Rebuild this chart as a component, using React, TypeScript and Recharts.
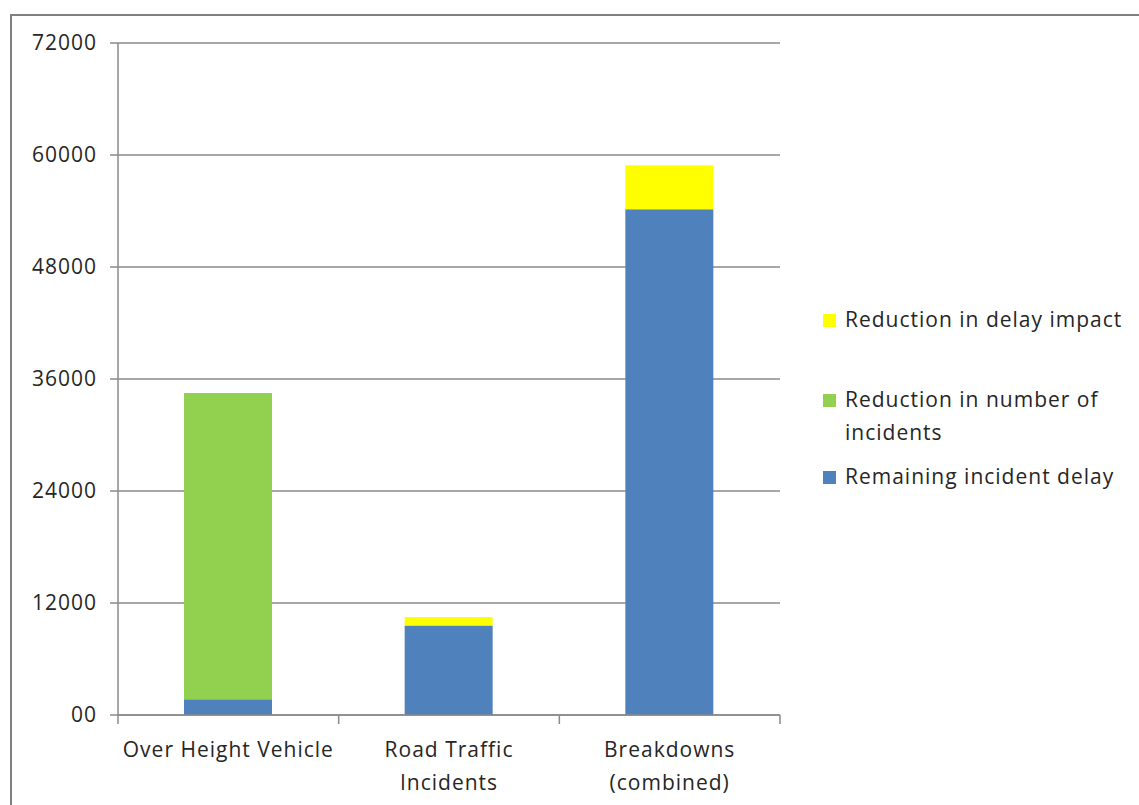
import { BarChart, Bar, XAxis, YAxis, CartesianGrid } from 'recharts';

// incident delay by incident type, stacked
const categories = ['Over Height Vehicle', 'Road Traffic\nIncidents', 'Breakdowns\n(combined)'];
const remainingDelay = [1700, 9600, 54200];
const reductionIncidents = [32800, 0, 0];
const reductionDelay = [0, 900, 4700];
const yTicks = [0, 12000, 24000, 36000, 48000, 60000, 72000];

const series = [
    { key: 'remaining', name: 'Remaining incident delay', color: '#4f81bd' },
    { key: 'incidents', name: 'Reduction in number of\nincidents', color: '#92d050' },
    { key: 'delay', name: 'Reduction in delay impact', color: '#ffff00' },
];

const FONT = '"Open Sans", sans-serif';
const TEXT = '#262626';
const AXIS = '#8a8a8a';

// label plus tick marks on the category boundaries (Excel style)
const CategoryTick = ({ x, y, payload, index, visibleTicksCount }: any) => {
    const lines = String(payload.value).split('\n');
    const half = payload.offset || 0;
    const isLast = index === visibleTicksCount - 1;
    return (
        <g>
            <line x1={x - half} x2={x - half} y1={y} y2={y + 9} stroke={AXIS} strokeWidth={1.5} />
            {isLast && <line x1={x + half} x2={x + half} y1={y} y2={y + 9} stroke={AXIS} strokeWidth={1.5} />}
            <text x={x} y={y} textAnchor="middle" fill={TEXT} fontFamily={FONT} fontSize={21} letterSpacing={1}>
                {lines.map((l, i) => (
                    <tspan key={i} x={x} dy={i === 0 ? 42 : 33}>{l}</tspan>
                ))}
            </text>
        </g>
    );
};

const App = () => {
    const data = categories.map((name, i) => ({
        name,
        remaining: remainingDelay[i],
        incidents: reductionIncidents[i],
        delay: reductionDelay[i],
    }));

    return (
        <div style={{ position: 'absolute', left: 0, top: 0, width: 1139, height: 805, overflow: 'hidden', background: '#fff' }}>
            <div
                style={{
                    position: 'absolute',
                    left: 10,
                    top: 14,
                    width: 1200,
                    height: 900,
                    borderTop: '2px solid #808080',
                    borderLeft: '2px solid #808080',
                }}
            />
            <div style={{ position: 'absolute', left: 0, top: 0 }}>
                <BarChart
                    width={1139}
                    height={805}
                    data={data}
                    margin={{ top: 43, right: 359, bottom: 30, left: 0 }}
                    barSize={88}
                >
                    <CartesianGrid vertical={false} stroke={AXIS} strokeWidth={1.5} />
                    <XAxis
                        dataKey="name"
                        tick={<CategoryTick />}
                        tickLine={false}
                        tickSize={0}
                        tickMargin={0}
                        axisLine={{ stroke: AXIS, strokeWidth: 1.5 }}
                        height={60}
                        interval={0}
                    />
                    <YAxis
                        width={118}
                        domain={[0, 72000]}
                        ticks={yTicks}
                        tickFormatter={(v: number) => (v === 0 ? '00' : String(v))}
                        tick={{ fill: TEXT, fontFamily: FONT, fontSize: 21, letterSpacing: 1 }}
                        tickLine={{ stroke: AXIS, strokeWidth: 1.5 }}
                        axisLine={{ stroke: AXIS, strokeWidth: 1.5 }}
                        tickSize={8}
                        tickMargin={13}
                    />
                    {series.map(s => (
                        <Bar key={s.key} dataKey={s.key} stackId="a" fill={s.color} isAnimationActive={false} />
                    ))}
                </BarChart>
            </div>
            <div style={{ position: 'absolute', left: 823, top: 304, fontFamily: FONT, fontSize: 21, letterSpacing: 1, color: TEXT }}>
                {[...series].reverse().map((s, i) => (
                    <div key={s.key} style={{ display: 'flex', alignItems: 'flex-start', marginBottom: i === 0 ? 48 : 12 }}>
                        <span style={{ width: 13, height: 13, background: s.color, marginTop: 10, marginRight: 9, flexShrink: 0 }} />
                        <span style={{ whiteSpace: 'pre', lineHeight: '33px', marginTop: -1 }}>{s.name}</span>
                    </div>
                ))}
            </div>
        </div>
    );
};

export default App;
